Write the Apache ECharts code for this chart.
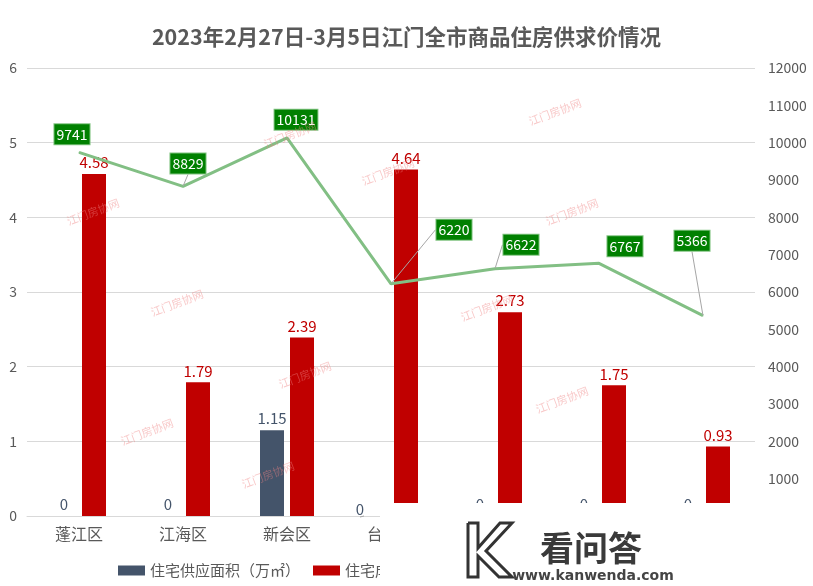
<!DOCTYPE html>
<html>
<head>
<meta charset="utf-8">
<script src="https://cdn.jsdelivr.net/npm/echarts@6/dist/echarts.min.js"></script>
<style>
html,body{margin:0;padding:0;background:#fff;}
#chart{width:813px;height:586px;}
</style>
</head>
<body>
<div id="chart"></div>
<script>
const categories = ['蓬江区', '江海区', '新会区', '台山市', '开平市', '鹤山市', '恩平市'];
const supplyArea = [0, 0, 1.15, 0, 0, 0, 0];
const salesArea = [4.58, 1.79, 2.39, 4.64, 2.73, 1.75, 0.93];
const avgPrice = [9741, 8829, 10131, 6220, 6622, 6767, 5366];
const leftTicks = [0, 1, 2, 3, 4, 5, 6];
const rightTicks = [0, 1000, 2000, 3000, 4000, 5000, 6000, 7000, 8000, 9000, 10000, 11000, 12000];
const seriesNames = ['住宅供应面积（万㎡）', '住宅成交面积（万㎡）', '住宅成交均价（元/㎡）'];

// label placement (style only)
const priceLabelShift = [[-7, -18], [5, -23], [9, -18], [63, -54], [26, -24], [26, -17], [-11, -75]];
const priceLeader = [false, true, false, true, true, false, true];

const chart = echarts.init(document.getElementById('chart'));
const fontCJK = '"Noto Sans CJK SC", "Noto Sans", sans-serif';
const wm = [[555,112],[388,172],[93,212],[572,212],[487,308],[177,303],[305,375],[562,400],[147,432],[268,475],[290,135]];

const graphics = wm.map(p => ({
  type: 'text', x: p[0], y: p[1], rotation: 0.36, z: 50, silent: true,
  style: { text: '江门房协网', fill: 'rgba(240,130,130,0.45)', font: '11px ' + fontCJK, align: 'center', verticalAlign: 'middle' }
}));
graphics.push(
  { type: 'rect', shape: { x: 380, y: 503, width: 433, height: 83 }, style: { fill: '#fff' }, z: 100 },
  { type: 'polyline', z: 101, shape: { points: [[468,523],[478,523],[478,548],[500,523],[512,523],[486,551],[512,577],[499,577],[478,556],[478,577],[468,577],[468,523]] }, style: { stroke: '#333', lineWidth: 3, fill: '#fff' } },
  { type: 'text', z: 101, x: 591, y: 548, style: { text: '看问答', fill: '#3a3a3a', font: 'bold 34px ' + fontCJK, align: 'center', verticalAlign: 'middle' } },
  { type: 'text', z: 101, x: 593, y: 576, style: { text: 'www.kanwenda.com', fill: '#444', font: 'bold 14px "DejaVu Sans", sans-serif', align: 'center', verticalAlign: 'middle' } }
);

const option = {
  animation: false,
  backgroundColor: '#fff',
  textStyle: { fontFamily: fontCJK },
  title: {
    text: '2023年2月27日-3月5日江门全市商品住房供求价情况',
    left: 'center', top: 21,
    textStyle: { fontSize: 21.5, fontWeight: 'bold', color: '#595959', fontFamily: fontCJK }
  },
  legend: {
    left: 113, top: 558, itemWidth: 27, itemHeight: 10, itemGap: 13,
    textStyle: { fontSize: 15, color: '#595959' },
    data: [
      { name: seriesNames[0], icon: 'rect' },
      { name: seriesNames[1], icon: 'rect' },
      { name: seriesNames[2] }
    ]
  },
  grid: { left: 27, right: 58, top: 68, bottom: 70, containLabel: false },
  xAxis: {
    type: 'category', data: categories,
    axisLine: { lineStyle: { color: '#d9d9d9' } },
    axisTick: { show: false },
    axisLabel: { fontSize: 16, color: '#595959', margin: 10 }
  },
  yAxis: [
    {
      type: 'value', min: leftTicks[0], max: leftTicks[leftTicks.length - 1], interval: 1,
      axisLine: { show: false }, axisTick: { show: false },
      axisLabel: { fontSize: 14, color: '#595959', margin: 10 },
      splitLine: { lineStyle: { color: '#d9d9d9' } }
    },
    {
      type: 'value', min: rightTicks[0], max: rightTicks[rightTicks.length - 1], interval: 1000,
      axisLine: { show: false }, axisTick: { show: false },
      axisLabel: { fontSize: 14, color: '#595959', margin: 13, formatter: v => String(v) },
      splitLine: { show: false }
    }
  ],
  series: [
    {
      name: seriesNames[0], type: 'bar',
      data: supplyArea.map((v, i) => ({ value: v, labelLine: { show: i === 3 } })),
      barWidth: 24, barGap: '25%',
      itemStyle: { color: '#44546a' },
      label: { show: true, position: 'top', fontSize: 15, color: '#44546a', distance: 4 },
      labelLine: { show: false, lineStyle: { color: '#a6a6a6', width: 1 } },
      labelLayout: function (p) { return p.dataIndex === 3 ? { dx: -16, dy: 5 } : {}; }
    },
    {
      name: seriesNames[1], type: 'bar', data: salesArea, barWidth: 24,
      itemStyle: { color: '#c00000' },
      label: { show: true, position: 'top', fontSize: 15, color: '#c00000', distance: 4 }
    },
    {
      name: seriesNames[2], type: 'line', yAxisIndex: 1,
      data: avgPrice.map((v, i) => ({ value: v, labelLine: { show: priceLeader[i] } })),
      symbol: 'circle', symbolSize: 1, showSymbol: true,
      lineStyle: { color: '#82bf84', width: 3 },
      itemStyle: { color: '#82bf84' },
      label: {
        show: true, position: 'inside', fontSize: 14, color: '#fff', lineHeight: 16,
        backgroundColor: '#008000', borderColor: '#7fc27f', borderWidth: 1,
        padding: [2, 2, 2, 2]
      },
      labelLine: { show: true, lineStyle: { color: '#a6a6a6', width: 1 } },
      labelLayout: function (p) {
        const s = priceLabelShift[p.dataIndex];
        return { dx: s[0], dy: s[1] };
      },
      z: 5
    }
  ],
  graphic: graphics
};
chart.setOption(option);
</script>
</body>
</html>
